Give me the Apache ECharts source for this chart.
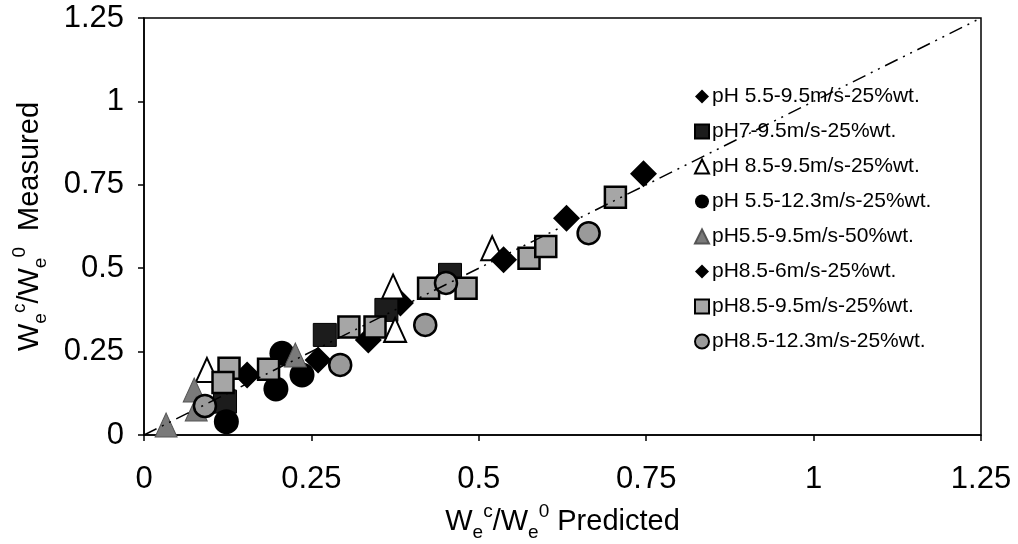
<!DOCTYPE html>
<html>
<head>
<meta charset="utf-8">
<script src="https://cdn.jsdelivr.net/npm/echarts@6/dist/echarts.min.js"></script>
<style>
  html, body { margin: 0; padding: 0; background: #fff; }
  #chart { width: 1018px; height: 544px; }
</style>
</head>
<body>
<div id="chart"></div>
<script>
// Series names, in legend order
const seriesNames = [
  'pH 5.5-9.5m/s-25%wt.',
  'pH7-9.5m/s-25%wt.',
  'pH 8.5-9.5m/s-25%wt.',
  'pH 5.5-12.3m/s-25%wt.',
  'pH5.5-9.5m/s-50%wt.',
  'pH8.5-6m/s-25%wt.',
  'pH8.5-9.5m/s-25%wt.',
  'pH8.5-12.3m/s-25%wt.'
];

// [predicted, measured] pairs for each series
const pH55_v95_25 = [[0.154, 0.18], [0.26, 0.225], [0.335, 0.285], [0.383, 0.396]];
const pH7_v95_25 = [[0.121, 0.10], [0.27, 0.30], [0.362, 0.375], [0.457, 0.48]];
const pH85_v95_25_open = [[0.094, 0.195], [0.375, 0.315], [0.372, 0.445], [0.52, 0.56]];
const pH55_v123_25 = [[0.123, 0.04], [0.197, 0.138], [0.206, 0.245], [0.236, 0.18]];
const pH55_v95_50 = [[0.033, 0.03], [0.075, 0.135], [0.078, 0.078], [0.226, 0.24]];
const pH85_v6_25 = [[0.537, 0.525], [0.631, 0.65], [0.746, 0.783]];
const pH85_v95_25 = [[0.127, 0.20], [0.118, 0.157], [0.186, 0.197], [0.306, 0.324],
                     [0.345, 0.324], [0.425, 0.44], [0.481, 0.44], [0.575, 0.53],
                     [0.60, 0.565], [0.704, 0.713]];
const pH85_v123_25 = [[0.091, 0.087], [0.293, 0.21], [0.42, 0.33], [0.451, 0.456], [0.664, 0.605]];

// 1:1 reference line
const parityLine = [[0, 0], [1.25, 1.25]];

// Axis ticks
const axisMin = 0, axisMax = 1.25, axisStep = 0.25;

const FONT = '"Liberation Sans", Arial, Helvetica, sans-serif';

const titleRich = {
  m: { fontSize: 29, fontFamily: FONT, color: '#000', lineHeight: 44, verticalAlign: 'middle' },
  sub: { fontSize: 19, fontFamily: FONT, color: '#000', lineHeight: 44, verticalAlign: 'bottom', padding: [0, 0, 2, 0] },
  sup: { fontSize: 19, fontFamily: FONT, color: '#000', lineHeight: 44, verticalAlign: 'top', padding: [2, 0, 0, 0] }
};

function scatter(name, data, symbol, size, fill, border, borderW) {
  return {
    name: name,
    type: 'scatter',
    data: data,
    symbol: symbol,
    symbolSize: size,
    itemStyle: { color: fill, borderColor: border, borderWidth: borderW, opacity: 1 },
    emphasis: { disabled: true }
  };
}

const chart = echarts.init(document.getElementById('chart'), null, { renderer: 'canvas' });

chart.setOption({
  animation: false,
  backgroundColor: '#fff',
  grid: {
    left: 144, right: 37, top: 18, bottom: 109,
    containLabel: false,
    outerBoundsMode: 'none',
    show: true, borderColor: '#000', borderWidth: 1.5, backgroundColor: 'transparent'
  },
  legend: {
    orient: 'vertical',
    left: 689, top: 81,
    itemWidth: 14, itemHeight: 14, itemGap: 14,
    textStyle: { fontSize: 21, fontFamily: FONT, color: '#000', padding: [0, 0, 0, -2] },
    data: seriesNames.map(n => ({ name: n }))
  },
  xAxis: {
    type: 'value',
    min: axisMin, max: axisMax, interval: axisStep,
    axisLine: { onZero: false, lineStyle: { color: '#000', width: 1.5 } },
    axisTick: { show: true, inside: false, length: 6, lineStyle: { color: '#000', width: 1.5 } },
    splitLine: { show: false },
    axisLabel: { fontSize: 31, fontFamily: FONT, color: '#000', margin: 29 },
    name: '{m|W}{sub|e}{sup|c}{m|/W}{sub|e}{sup|0}{m| Predicted}',
    nameLocation: 'middle',
    nameGap: 59,
    nameTextStyle: { rich: titleRich }
  },
  yAxis: {
    type: 'value',
    min: axisMin, max: axisMax, interval: axisStep,
    axisLine: { onZero: false, lineStyle: { color: '#000', width: 1.5 } },
    axisTick: { show: true, inside: false, length: 6, lineStyle: { color: '#000', width: 1.5 } },
    splitLine: { show: false },
    axisLabel: { fontSize: 31, fontFamily: FONT, color: '#000', margin: 20 },
    name: '{m|W}{sub|e}{sup|c}{m|/W}{sub|e}{sup|0}{m|  Measured}',
    nameLocation: 'middle',
    nameRotate: 90,
    nameGap: 92,
    nameTextStyle: { rich: titleRich }
  },
  series: [
    scatter(seriesNames[0], pH55_v95_25, 'diamond', 27, '#000', '#000', 0),
    scatter(seriesNames[1], pH7_v95_25, 'rect', 23, '#1c1c1c', '#000', 1),
    scatter(seriesNames[2], pH85_v95_25_open, 'triangle', [22, 24], '#fff', '#000', 2),
    scatter(seriesNames[3], pH55_v123_25, 'circle', 25, '#000', '#000', 0),
    scatter(seriesNames[4], pH55_v95_50, 'triangle', [22, 24], '#7a7a7a', '#555', 1),
    scatter(seriesNames[5], pH85_v6_25, 'diamond', 27, '#000', '#000', 0),
    scatter(seriesNames[6], pH85_v95_25, 'rect', 21, '#a6a6a6', '#000', 2.5),
    scatter(seriesNames[7], pH85_v123_25, 'circle', 22, '#9a9a9a', '#000', 2.5),
    {
      name: 'parity',
      type: 'line',
      data: parityLine,
      symbol: 'none',
      z: 5,
      lineStyle: { color: '#000', width: 1.5, type: [14, 6, 2, 6, 2, 6] },
      emphasis: { disabled: true },
      silent: true
    }
  ]
});
</script>
</body>
</html>
